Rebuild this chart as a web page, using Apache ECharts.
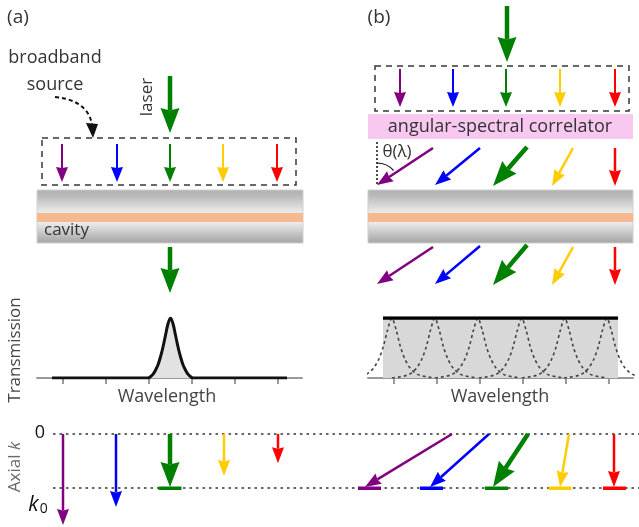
<!DOCTYPE html>
<html><head><meta charset="utf-8">
<script src="https://cdn.jsdelivr.net/npm/echarts@6/dist/echarts.min.js"></script>
<style>html,body{margin:0;padding:0;background:#fff}#c{width:639px;height:527px}</style>
</head><body><div id="c"></div>
<script>
// ---------- data ----------
const colorNames = ['violet', 'blue', 'green', 'yellow', 'red'];
// wavelength tick positions (arbitrary units)
const wavelengthTicks = [0, 1, 2, 3, 4, 5];
// (a) single cavity resonance: [wavelength, transmission]
const transmissionA = [
  [-0.256, 0], [1.98, 0], [2.03, 0.02], [2.09, 0.06], [2.15, 0.13], [2.21, 0.22],
  [2.27, 0.36], [2.32, 0.5], [2.38, 0.7], [2.44, 0.9], [2.5, 1], [2.56, 0.9],
  [2.62, 0.7], [2.68, 0.5], [2.73, 0.36], [2.79, 0.22], [2.85, 0.13], [2.91, 0.06],
  [2.97, 0.02], [3.02, 0], [5.21, 0]
];
// (b) broadband flat transmission
const transmissionB = [[-0.256, 1], [5.21, 1]];
// (b) individual angle-tuned resonances
const resonanceCentersB = [-0.05, 0.95, 1.95, 2.97, 3.97, 4.95];
const resonanceProfile = [ // [offset, transmission]
  [-1.0, 0], [-0.85, 0.015], [-0.7, 0.035], [-0.6, 0.06], [-0.5, 0.11], [-0.4, 0.19],
  [-0.3, 0.32], [-0.2, 0.52], [-0.1, 0.8], [0, 1], [0.1, 0.8], [0.2, 0.52], [0.3, 0.32],
  [0.4, 0.19], [0.5, 0.11], [0.6, 0.06], [0.7, 0.035], [0.85, 0.015], [1.0, 0]
];
// arrows in the schematic: [x1, y1, x2, y2, colorIndex]
const sourceArrows = [
  [62, 144, 62, 182, 0], [117, 144, 117, 182, 1], [170, 144, 170, 182, 2], [223, 144, 223, 182, 3], [277, 144, 277, 182, 4],
  [400, 69, 400, 107, 0], [453, 69, 453, 107, 1], [506, 69, 506, 107, 2], [560, 69, 560, 107, 3], [615, 69, 615, 107, 4]
];
const laserArrows = [
  [170, 76, 170, 133, 2], [507, 6, 507, 62, 2], [170, 247, 170, 293, 2],
  [527, 147, 493, 186, 2], [527, 245, 493, 285, 2]
];
const tiltedArrows = [
  [433, 148, 377, 185, 0], [480, 148, 435, 185, 1], [573, 148, 552, 186, 3], [615, 148, 615, 186, 4],
  [433, 247, 377, 284, 0], [480, 246, 435, 284, 1], [573, 247, 552, 285, 3], [615, 247, 615, 285, 4]
];
// axial wave-vector (units of k0): [x1, k1, x2, k2, colorIndex]
const axialKArrows = [
  [63, 0, 63, 1.685, 0], [116, 0, 116, 1.35, 1], [224, 0, 224, 0.78, 3], [278, 0, 278, 0.54, 4],
  [452, 0, 365, 0.98, 0], [489, 0, 430, 0.98, 1], [569, 0, 560, 0.98, 3], [614, 0, 614, 0.98, 4]
];
const axialKLaser = [[170, 0, 170, 0.98, 2], [528, 0, 493, 0.98, 2]];
// resonance markers at k0: [x, k, colorIndex]
const resonanceMarks = [[170, 1, 2], [369.5, 1, 0], [431.5, 1, 1], [496.5, 1, 2], [560, 1, 3], [614.5, 1, 4]];

// ---------- style ----------
const COLORS = ['#800080', '#0000ff', '#008000', '#ffcc00', '#ff0000'];
const FONT = "'Open Sans', sans-serif";
const TXT = '#333';

function arrowRender(st) {
  return function (params, api) {
    const p1 = api.coord([api.value(0), api.value(1)]);
    const p2 = api.coord([api.value(2), api.value(3)]);
    const c = COLORS[api.value(4)];
    const dx = p2[0] - p1[0], dy = p2[1] - p1[1];
    const L = Math.hypot(dx, dy), ux = dx / L, uy = dy / L;
    const bx = p2[0] - ux * st.headLen, by = p2[1] - uy * st.headLen;
    const px = -uy, py = ux, hw = st.headW / 2;
    const nx = bx + ux * st.notch, ny = by + uy * st.notch;
    return {
      type: 'group', children: [
        { type: 'line', shape: { x1: p1[0], y1: p1[1], x2: nx, y2: ny }, style: { stroke: c, lineWidth: st.shaft } },
        { type: 'polygon', shape: { points: [[p2[0], p2[1]], [bx + px * hw, by + py * hw], [nx, ny], [bx - px * hw, by - py * hw]] }, style: { fill: c } }
      ]
    };
  };
}
function markRender(params, api) {
  const p = api.coord([api.value(0), api.value(1)]);
  return { type: 'rect', shape: { x: p[0] - 11.5, y: p[1] - 1.5, width: 23, height: 3.5 }, style: { fill: COLORS[api.value(2)] } };
}
const small = { shaft: 2, headLen: 15, headW: 12, notch: 1 };
const mid = { shaft: 2.5, headLen: 16, headW: 12, notch: 1.5 };
const big = { shaft: 4.5, headLen: 25, headW: 19, notch: 2.5 };

function tAxisX(gi) {
  return {
    gridIndex: gi, type: 'value', min: -0.605, max: 5.558,
    axisLine: { show: true, lineStyle: { color: '#999', width: 2 } },
    axisTick: { show: true, inside: false, length: 6, customValues: wavelengthTicks, lineStyle: { color: '#999', width: 2 } },
    axisLabel: { show: false }, splitLine: { show: false }
  };
}
function tAxisY(gi) {
  return { gridIndex: gi, type: 'value', min: 0, max: 1, show: false };
}

const series = [];
// (a) transmission
series.push({
  type: 'line', xAxisIndex: 1, yAxisIndex: 1, data: transmissionA, smooth: 0.3, symbol: 'none',
  lineStyle: { color: '#111', width: 3 }, areaStyle: { color: '#e2e2e2', opacity: 1 }, z: 3
});
// (b) flat transmission fill
series.push({
  type: 'line', xAxisIndex: 2, yAxisIndex: 2, data: transmissionB, symbol: 'none',
  lineStyle: { width: 0 }, areaStyle: { color: '#d8d8d8', opacity: 1 }, z: 2
});
resonanceCentersB.forEach(function (c0) {
  series.push({
    type: 'line', xAxisIndex: 2, yAxisIndex: 2, symbol: 'none', smooth: 0.3,
    data: resonanceProfile.map(function (p) { return [c0 + p[0], p[1]]; }),
    lineStyle: { color: '#444', width: 1.6, type: [3, 3] }, z: 3
  });
});
series.push({
  type: 'line', xAxisIndex: 2, yAxisIndex: 2, data: transmissionB, symbol: 'none',
  lineStyle: { color: '#000', width: 3.5 }, z: 4
});
// schematic arrows
series.push({ type: 'custom', xAxisIndex: 0, yAxisIndex: 0, data: sourceArrows, renderItem: arrowRender(small), z: 5 });
series.push({ type: 'custom', xAxisIndex: 0, yAxisIndex: 0, data: tiltedArrows, renderItem: arrowRender(mid), z: 5 });
series.push({ type: 'custom', xAxisIndex: 0, yAxisIndex: 0, data: laserArrows, renderItem: arrowRender(big), z: 5 });
// axial k
series.push({ type: 'custom', xAxisIndex: 3, yAxisIndex: 3, data: axialKArrows, renderItem: arrowRender(mid), z: 5, clip: false });
series.push({ type: 'custom', xAxisIndex: 3, yAxisIndex: 3, data: axialKLaser, renderItem: arrowRender(big), z: 5, clip: false });
series.push({ type: 'custom', xAxisIndex: 3, yAxisIndex: 3, data: resonanceMarks, renderItem: markRender, z: 6, clip: false });

function slab(x, w) {
  return [
    { type: 'rect', shape: { x: x, y: 190, width: w, height: 53 },
      style: { fill: { type: 'linear', x: 0, y: 0, x2: 0, y2: 1, colorStops: [
        { offset: 0, color: '#b0b0b0' }, { offset: 0.12, color: '#bababa' }, { offset: 0.4, color: '#e8e8e8' },
        { offset: 0.6, color: '#eeeeee' }, { offset: 0.88, color: '#b8b8b8' }, { offset: 1, color: '#a4a4a4' }] },
        stroke: '#d0d0d0', lineWidth: 1 }, z: 0 },
    { type: 'rect', shape: { x: x, y: 213, width: w, height: 9 }, style: { fill: '#f6b98f' }, z: 1 }
  ];
}
function txt(t, x, y, size, opts) {
  return Object.assign({ type: 'text', x: x, y: y, z: 10,
    style: Object.assign({ text: t, font: size + 'px ' + FONT, fill: TXT, align: 'center', verticalAlign: 'middle' }, (opts && opts.style) || {}) },
    (opts && opts.el) || {});
}
const dashBox = { stroke: '#2f3d2f', lineWidth: 1.5, lineDash: [6, 5], fill: 'none' };

const graphic = [].concat(
  slab(37, 266), slab(368, 265),
  [
    { type: 'rect', shape: { x: 42, y: 138, width: 254, height: 47 }, style: dashBox, z: 1 },
    { type: 'rect', shape: { x: 375, y: 66, width: 254, height: 45 }, style: dashBox, z: 1 },
    { type: 'rect', shape: { x: 368, y: 114, width: 265, height: 25 }, style: { fill: '#f9c8f1' }, z: 1 },
    { type: 'bezierCurve', shape: { x1: 55, y1: 97, cpx1: 78, cpy1: 99, cpx2: 90, cpy2: 110, x2: 92, y2: 125 },
      style: { stroke: '#111', lineWidth: 2, lineDash: [4, 3], fill: 'none' }, z: 2 },
    { type: 'polygon', shape: { points: [[93, 138], [86, 123], [98, 124]] }, style: { fill: '#111' }, z: 2 },
    { type: 'line', shape: { x1: 377, y1: 142, x2: 377, y2: 185 }, style: { stroke: '#111', lineWidth: 1.5, lineDash: [2, 2] }, z: 2 },
    { type: 'arc', shape: { cx: 377, cy: 185, r: 22, startAngle: -Math.PI / 2, endAngle: -0.72, clockwise: true },
      style: { stroke: '#111', lineWidth: 1.2, fill: 'none' }, z: 2 },
    txt('(a)', 18, 18, 19),
    txt('(b)', 379, 18, 19),
    txt('broadband', 55, 58, 18),
    txt('source', 55, 85, 18),
    txt('laser', 147, 97, 17, { el: { rotation: Math.PI / 2 } }),
    txt('cavity', 44, 230, 17, { style: { align: 'left' } }),
    txt('angular-spectral correlator', 500, 127, 18),
    txt('θ(λ)', 397, 152, 17),
    txt('Transmission', 15, 350, 17, { el: { rotation: Math.PI / 2 }, style: { fill: '#444' } }),
    txt('Wavelength', 167, 397, 18, { style: { fill: '#444' } }),
    txt('Wavelength', 500, 397, 18, { style: { fill: '#444' } }),
    { type: 'text', x: 15, y: 467, rotation: Math.PI / 2, z: 10,
      style: { text: '{n|Axial }{i|k}', align: 'center', verticalAlign: 'middle',
        rich: { n: { font: '17px ' + FONT, fill: '#6a6a6a' }, i: { font: 'italic 17px ' + FONT, fill: '#6a6a6a' } } } },
    txt('0', 40, 433, 18, { style: { fill: '#111' } }),
    { type: 'text', x: 38, y: 505, z: 10,
      style: { text: '{i|k}{s|0}', align: 'center', verticalAlign: 'middle',
        rich: { i: { font: 'italic 21px ' + FONT, fill: '#111' }, s: { font: '14px ' + FONT, fill: '#111', padding: [8, 0, 0, 1] } } } }
  ]
);

const chart = echarts.init(document.getElementById('c'), null, { renderer: 'canvas' });
chart.setOption({
  animation: false,
  backgroundColor: '#fff',
  grid: [
    { left: 0, top: 0, right: 0, bottom: 0, outerBoundsMode: 'none' },
    { left: 37, width: 265, top: 318, bottom: 149, outerBoundsMode: 'none' },
    { left: 368, width: 265, top: 318, bottom: 149, outerBoundsMode: 'none' },
    { left: 53, right: 0, top: 434, bottom: 39, outerBoundsMode: 'none' }
  ],
  xAxis: [
    { gridIndex: 0, type: 'value', min: 0, max: 639, show: false },
    tAxisX(1), tAxisX(2),
    { gridIndex: 3, type: 'value', min: 53, max: 639, show: false }
  ],
  yAxis: [
    { gridIndex: 0, type: 'value', min: 0, max: 527, inverse: true, show: false },
    tAxisY(1), tAxisY(2),
    { gridIndex: 3, type: 'value', min: 0, max: 1, interval: 1, inverse: true,
      axisLine: { show: false }, axisTick: { show: false }, axisLabel: { show: false },
      splitLine: { show: true, lineStyle: { color: '#333', width: 1.6, type: [2.5, 4] } } }
  ],
  graphic: graphic,
  series: series
});
</script></body></html>
